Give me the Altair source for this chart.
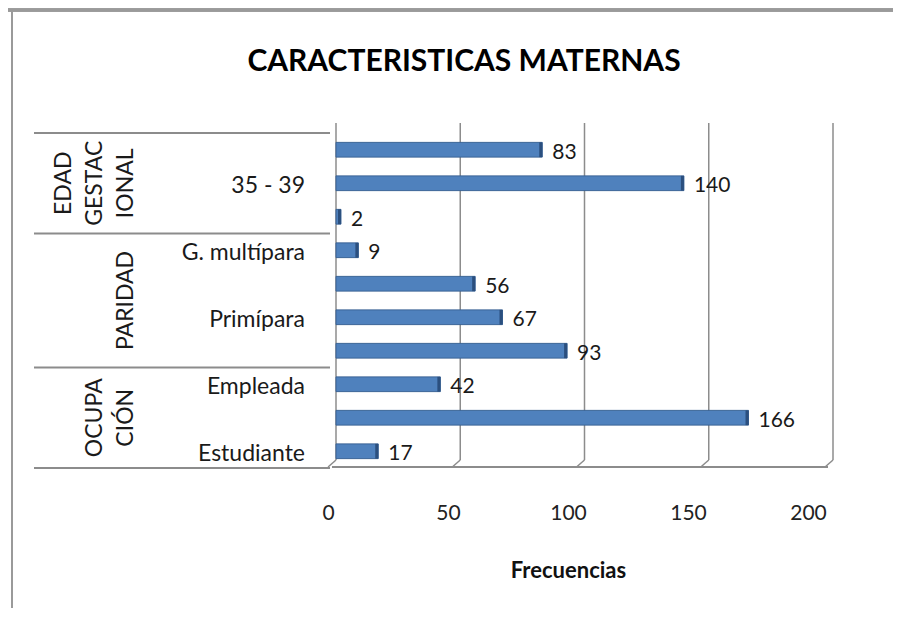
import altair as alt
import pandas as pd

# ---------------- data ----------------
chart_title = "CARACTERISTICAS MATERNAS"
x_title = "Frecuencias"
group_names = ["EDAD GESTACIONAL", "PARIDAD", "OCUPACIÓN"]
group_lines = [["EDAD", "GESTAC", "IONAL"], ["PARIDAD"], ["OCUPA", "CIÓN"]]
group_sizes = [3, 4, 3]
category_labels = ["", "35 - 39", "", "G. multípara", "", "Primípara", "", "Empleada", "", "Estudiante"]
values = [83, 140, 2, 9, 56, 67, 93, 42, 166, 17]
tick_values = [0, 50, 100, 150, 200]

W, H = 497, 335
FONT = "Lato"

rows = []
for i, (lab, v) in enumerate(zip(category_labels, values)):
    rows.append({"idx": i, "label": lab, "value": v})
df = pd.DataFrame(rows)

grows, lrows = [], []
start = 0
for name, lines, n in zip(group_names, group_lines, group_sizes):
    grows.append({"group": name, "start": start, "end": start + n, "mid": start + n / 2})
    for j, ln in enumerate(lines):
        lrows.append({"group": name, "line": ln, "k": len(lines) - 1 - j, "mid": start + n / 2})
    start += n
gdf = pd.DataFrame(grows)
ldf = pd.DataFrame(lrows)
bounds = pd.DataFrame({"b": [0] + list(gdf["end"])})
tdf = pd.DataFrame({"v": tick_values})

xs = alt.Scale(domain=[0, 200], nice=False, zero=True)
ys = alt.Scale(domain=[0, 10], reverse=True, nice=False, zero=False)

# grid / walls
grid = alt.Chart(tdf).mark_rule(color="#8c8c8c", strokeWidth=1.5).encode(
    x=alt.X("v:Q", scale=xs, axis=None),
    y=alt.value(-10), y2=alt.value(H - 8),
)
slant = alt.Chart(tdf).transform_calculate(v2="datum.v - 3.2").mark_rule(
    color="#8c8c8c", strokeWidth=1.5
).encode(
    x=alt.X("v:Q", scale=xs, axis=None), x2="v2:Q",
    y=alt.value(H - 8), y2=alt.value(H - 1),
)
floor = alt.Chart(tdf).mark_rule(color="#8c8c8c", strokeWidth=2).encode(
    x=alt.value(-4), x2=alt.value(W - 5), y=alt.value(H - 1)
)

base = alt.Chart(df).transform_calculate(
    x0="0", y0="datum.idx + 0.28", y1="datum.idx + 0.72", yc="datum.idx + 0.5"
)
bars = base.mark_rect(color="#4F81BD", stroke="#3A6396", strokeWidth=1).encode(
    x=alt.X("x0:Q", scale=xs, axis=None), x2="value:Q",
    y=alt.Y("y0:Q", scale=ys, axis=None), y2="y1:Q",
)
caps = base.mark_rule(color="#2B4F7E", strokeWidth=3, xOffset=-1.5).encode(
    x=alt.X("value:Q", scale=xs, axis=None),
    y=alt.Y("y0:Q", scale=ys, axis=None), y2="y1:Q",
)
vlabels = base.mark_text(align="left", baseline="middle", dx=10, dy=3, fontSize=21,
                         font=FONT, color="#1a1a1a").encode(
    x=alt.X("value:Q", scale=xs, axis=None),
    y=alt.Y("yc:Q", scale=ys, axis=None),
    text="value:Q",
)
clabels = base.mark_text(align="right", baseline="middle", dy=3, fontSize=23,
                         font=FONT, color="#1a1a1a").encode(
    x=alt.value(-31),
    y=alt.Y("yc:Q", scale=ys, axis=None),
    text="label:N",
)
glabels = alt.Chart(ldf).mark_text(angle=270, align="center", baseline="bottom",
                                   fontSize=23, font=FONT, color="#1a1a1a").encode(
    x=alt.X("k:Q", scale=alt.Scale(domain=[0, 1], range=[-198, -229], nice=False, zero=False),
            axis=None),
    y=alt.Y("mid:Q", scale=ys, axis=None),
    text="line:N",
)
tlines = alt.Chart(bounds).mark_rule(color="#8c8c8c", strokeWidth=2).encode(
    x=alt.value(-302), x2=alt.value(-6),
    y=alt.Y("b:Q", scale=ys, axis=None),
)

axis_layer = alt.Chart(tdf).mark_point(opacity=0).encode(
    x=alt.X("v:Q", title=x_title,
            scale=alt.Scale(domain=[0, 200], range=[-8, 472], nice=False),
            axis=alt.Axis(values=tick_values, grid=False, domain=False, ticks=False,
                          labelFlush=False, labelPadding=34, labelFontSize=21,
                          labelFont=FONT, labelColor="#222222", titleFont=FONT,
                          titleFontSize=22, titleFontWeight="bold", titleColor="#111111",
                          titlePadding=37)),
    y=alt.value(H),
)

title_layer = alt.Chart(pd.DataFrame({"t": [chart_title]})).mark_text(
    fontSize=30, fontWeight="bold", font=FONT, color="#000000",
    align="center", baseline="middle"
).encode(x=alt.value(128), y=alt.value(-71), text="t:N")

frame_top = alt.Chart(tdf).mark_rule(color="#9a9a9a", strokeWidth=3).encode(
    x=alt.value(-330), x2=alt.value(W + 60), y=alt.value(-123)
)
frame_left = alt.Chart(tdf).mark_rule(color="#9a9a9a", strokeWidth=2).encode(
    x=alt.value(-324), y=alt.value(-123), y2=alt.value(H + 140)
)

chart = alt.layer(
    frame_top, frame_left, grid, slant, floor, tlines, bars, caps,
    vlabels, clabels, glabels, axis_layer, title_layer
).resolve_scale(x="independent").properties(
    width=W, height=H,
    autosize=alt.AutoSizeParams(type="none"),
    padding={"left": 328, "top": 125, "right": 60, "bottom": 140},
).configure_view(stroke=None)

chart.save("out.html", embed_options={"renderer": "svg", "actions": False})
